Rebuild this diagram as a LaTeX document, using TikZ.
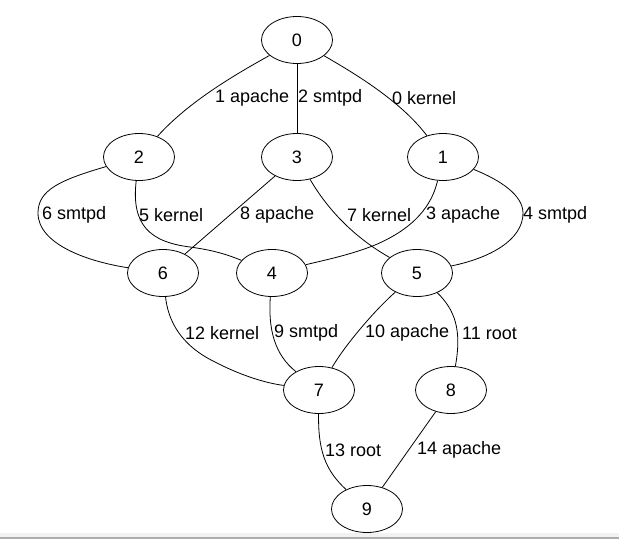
\documentclass[tikz,border=0pt]{standalone}
\usepackage{fontspec}
\setmainfont{Liberation Sans}
\usetikzlibrary{shapes.geometric}
\begin{document}
\begin{tikzpicture}[x=1pt,y=-1pt,
  vert/.style={draw,ellipse,line width=0.8pt,minimum width=71pt,minimum height=47pt,inner sep=0pt,font=\fontsize{18}{20}\selectfont},
  elabel/.style={anchor=west,inner sep=0pt,font=\fontsize{18}{20}\selectfont},
  edge/.style={line width=0.8pt}]
\useasboundingbox (0,0) rectangle (619,539);
\fill[gray!10] (0,533) rectangle (619,537);
\fill[gray!65] (0,537) rectangle (619,539);
% nodes
\node[vert] (n0) at (297,40) {0};
\node[vert] (n2) at (139,157) {2};
\node[vert] (n3) at (297,157) {3};
\node[vert] (n1) at (443,157) {1};
\node[vert] (n6) at (163,273) {6};
\node[vert] (n4) at (272,273) {4};
\node[vert] (n5) at (417,273) {5};
\node[vert] (n7) at (319,390) {7};
\node[vert] (n8) at (451,390) {8};
\node[vert] (n9) at (367,509) {9};
% edges
\draw[edge] (n0) .. controls (240,72) and (190,100) .. (n2);
\draw[edge] (n0) -- (n3);
\draw[edge] (n0) .. controls (352,72) and (400,100) .. (n1);
\draw[edge] (n2) .. controls (60,180) and (38,190) .. (38,213) .. controls (38,245) and (90,262) .. (n6);
\draw[edge] (n2) .. controls (131,225) and (150,242) .. (190,247) .. controls (212,250) and (226,254) .. (n4);
\draw[edge] (n3) -- (n6);
\draw[edge] (n3) .. controls (325,205) and (350,235) .. (n5);
\draw[edge] (n1) .. controls (432,205) and (415,228) .. (375,245) .. controls (350,255) and (325,260) .. (n4);
\draw[edge] (n1) .. controls (500,180) and (523,195) .. (523,213) .. controls (523,240) and (490,258) .. (n5);
\draw[edge] (n6) .. controls (168,320) and (180,345) .. (215,362) .. controls (240,375) and (265,383) .. (n7);
\draw[edge] (n4) .. controls (268,330) and (275,355) .. (n7);
\draw[edge] (n5) .. controls (375,310) and (345,345) .. (n7);
\draw[edge] (n5) .. controls (455,310) and (462,330) .. (n8);
\draw[edge] (n7) .. controls (318,450) and (325,470) .. (n9);
\draw[edge] (n8) -- (n9);
% labels
\node[elabel] (l1) at (215,98) {1 apache};
\node[elabel] (l2) at (298,98) {2 smtpd};
\node[elabel] (l0) at (392,98) {0 kernel};
\node[elabel] (l6) at (42,215) {6 smtpd};
\node[elabel] (l5) at (139,215) {5 kernel};
\node[elabel] (l8) at (240,215) {8 apache};
\node[elabel] (l7) at (347,215) {7 kernel};
\node[elabel] (l3) at (426,215) {3 apache};
\node[elabel] (l4) at (523,215) {4 smtpd};
\node[elabel] (l12) at (185,333) {12 kernel};
\node[elabel] (l9) at (274,333) {9 smtpd};
\node[elabel] (l10) at (365,333) {10 apache};
\node[elabel] (l11) at (462,333) {11 root};
\node[elabel] (l13) at (325,450) {13 root};
\node[elabel] (l14) at (417,450) {14 apache};
\end{tikzpicture}
\end{document}
